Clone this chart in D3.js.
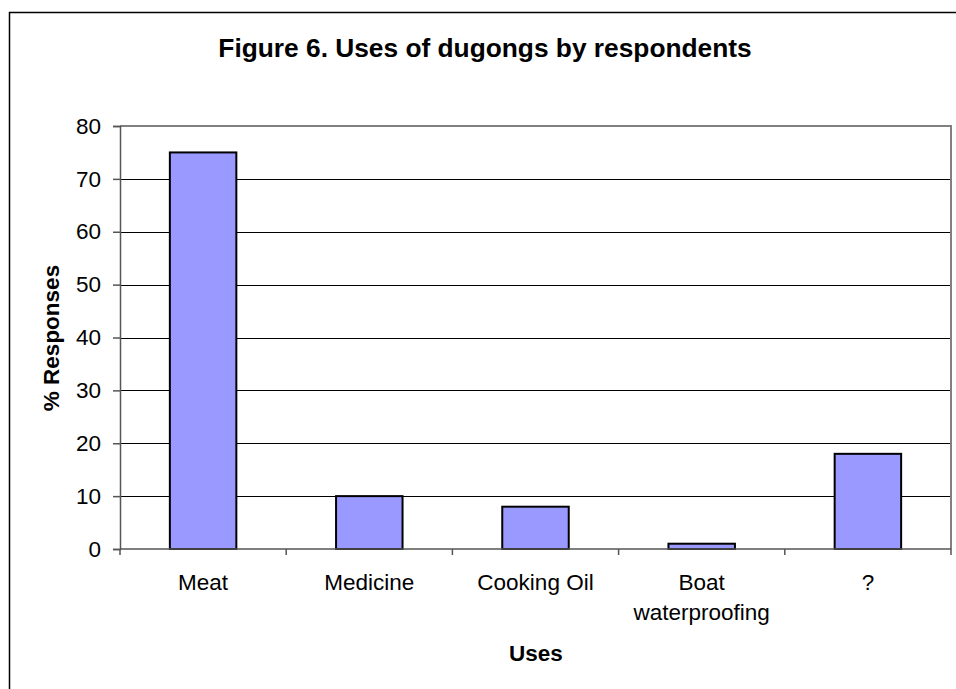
<!DOCTYPE html>
<html>
<head>
<meta charset="utf-8">
<script src="https://cdn.jsdelivr.net/npm/d3@7"></script>
<style>
  html, body { margin: 0; padding: 0; background: #fff; }
  svg { display: block; font-family: "Liberation Sans", Arial, sans-serif; }
</style>
</head>
<body>
<svg id="chart" width="956" height="689"></svg>
<script>
const categories = [["Meat"], ["Medicine"], ["Cooking Oil"], ["Boat", "waterproofing"], ["?"]];
const values = [75, 10, 8, 1, 18];
const yTicks = [0, 10, 20, 30, 40, 50, 60, 70, 80];

const svg = d3.select("#chart");
const plot = { left: 120, top: 126, right: 951, bottom: 549 };

// outer chart frame
svg.append("rect")
  .attr("x", 9.5).attr("y", 12.5)
  .attr("width", 960).attr("height", 700)
  .attr("fill", "#fff").attr("stroke", "#000").attr("stroke-width", 1.5);

const x = d3.scaleBand()
  .domain(d3.range(categories.length))
  .range([plot.left, plot.right])
  .paddingInner(0.6).paddingOuter(0.3);

const xEdges = d3.scaleLinear()
  .domain([0, categories.length])
  .range([plot.left, plot.right]);

const y = d3.scaleLinear().domain([0, 80]).range([plot.bottom, plot.top]);

// gridlines
svg.append("g").selectAll("line")
  .data(yTicks.filter(t => t > 0 && t < 80))
  .join("line")
  .attr("x1", plot.left).attr("x2", plot.right)
  .attr("y1", d => Math.round(y(d)) + 0.5).attr("y2", d => Math.round(y(d)) + 0.5)
  .attr("stroke", "#000").attr("stroke-width", 1);

// plot area border (top and right)
svg.append("path")
  .attr("d", `M${plot.left},${plot.top} H${plot.right} V${plot.bottom}`)
  .attr("fill", "none").attr("stroke", "#808080").attr("stroke-width", 2);

// bars
svg.append("g").selectAll("rect")
  .data(values)
  .join("rect")
  .attr("x", (d, i) => x(i))
  .attr("width", x.bandwidth())
  .attr("y", d => y(d))
  .attr("height", d => y(0) - y(d))
  .attr("fill", "#9999FF")
  .attr("stroke", "#000").attr("stroke-width", 2);

// y axis
const yAxis = svg.append("g")
  .attr("transform", `translate(${plot.left},0)`)
  .call(d3.axisLeft(y).tickValues(yTicks).tickSize(7).tickPadding(12));
yAxis.select(".domain").attr("stroke", "#555").attr("stroke-width", 1.5);
yAxis.selectAll(".tick line").attr("stroke", "#555").attr("stroke-width", 1.5);
yAxis.selectAll("text").attr("font-size", 22.5).attr("fill", "#000")
  .attr("font-family", "Liberation Sans, Arial, sans-serif");

// x axis line and ticks
const xAxisG = svg.append("g");
xAxisG.append("line")
  .attr("x1", plot.left).attr("x2", plot.right)
  .attr("y1", plot.bottom).attr("y2", plot.bottom)
  .attr("stroke", "#555").attr("stroke-width", 1.5);
xAxisG.selectAll(".tk")
  .data(d3.range(categories.length + 1))
  .join("line")
  .attr("class", "tk")
  .attr("x1", d => xEdges(d)).attr("x2", d => xEdges(d))
  .attr("y1", plot.bottom).attr("y2", plot.bottom + 6)
  .attr("stroke", "#555").attr("stroke-width", 1.5);

// category labels
const lab = svg.append("g").selectAll("text")
  .data(categories)
  .join("text")
  .attr("x", (d, i) => x(i) + x.bandwidth() / 2)
  .attr("y", 590)
  .attr("text-anchor", "middle")
  .attr("font-size", 22.5)
  .attr("fill", "#000");
lab.selectAll("tspan")
  .data(d => d)
  .join("tspan")
  .attr("x", function() { return d3.select(this.parentNode).attr("x"); })
  .attr("dy", (d, i) => i === 0 ? 0 : 29.5)
  .text(d => d);

// titles
svg.append("text")
  .attr("x", 485).attr("y", 57)
  .attr("text-anchor", "middle")
  .attr("font-size", 26.3).attr("font-weight", "bold")
  .text("Figure 6. Uses of dugongs by respondents");

svg.append("text")
  .attr("transform", "translate(59,338) rotate(-90)")
  .attr("text-anchor", "middle")
  .attr("font-size", 22.5).attr("font-weight", "bold")
  .text("% Responses");

svg.append("text")
  .attr("x", 536).attr("y", 661)
  .attr("text-anchor", "middle")
  .attr("font-size", 22.5).attr("font-weight", "bold")
  .text("Uses");
</script>
</body>
</html>
